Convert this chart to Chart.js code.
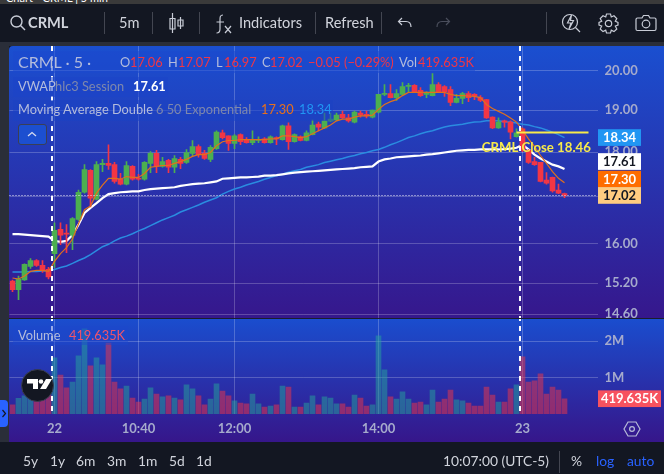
<!DOCTYPE html>
<html><head><meta charset="utf-8">
<script src="https://cdn.jsdelivr.net/npm/chart.js@4"></script>
<style>
html,body{margin:0;padding:0;background:#131722;overflow:hidden}
body{width:664px;height:474px;position:relative;font-family:Lato,sans-serif;color:#d1d4dc}
.a{position:absolute;white-space:nowrap;line-height:1}
.box{position:absolute}
svg{position:absolute;fill:none;stroke:#c8ccd6;stroke-width:1.2}
canvas{position:absolute;left:0;top:0}
.lg{font-size:12.8px;top:56px}
.m{color:#b4bcdc}.d{color:#7f88ac}.r{color:#f23645}
.tb{font-size:14.6px;top:16px}
.bt{font-size:13.8px;top:454px}
</style></head><body>
<div class="box" style="left:0;top:0;width:664px;height:4px;background:#3a3a3a;overflow:hidden"><span class="a" style="left:6px;top:-8px;font-size:11px;color:#fff">Chart - CRML | 5 min</span></div>
<div class="box" style="left:0;top:42px;width:664px;height:4px;background:#2a2e39"></div>
<div class="box" style="left:0;top:42px;width:9px;height:400px;background:#2a2e39"></div>
<div class="box" style="left:9px;top:46px;width:655px;height:272px;background:linear-gradient(#1a4fd0,#36178c);border-top-left-radius:4px"></div>
<div class="box" style="left:9px;top:319px;width:655px;height:123px;background:linear-gradient(#1a4dce,#36168a)"></div>
<canvas id="c" width="664" height="474"></canvas>
<div class="box" style="left:9px;top:318px;width:655px;height:1px;background:#1b1f2c"></div>

<div class="box" style="left:13px;top:51px;width:462px;height:22px;background:rgba(28,72,205,.55)"></div>
<div class="box" style="left:13px;top:77px;width:155px;height:20px;background:rgba(28,68,200,.55)"></div>
<div class="box" style="left:13px;top:100px;width:320px;height:21px;background:rgba(28,65,195,.55)"></div>
<div class="box" style="left:13px;top:326px;width:115px;height:19px;background:rgba(28,72,205,.45)"></div>

<span class="a m" style="left:18px;top:54px;font-size:16px">CRML · 5 ·</span>
<span class="a lg m" style="left:120px">O</span><span class="a lg r" style="left:130px">17.06</span>
<span class="a lg m" style="left:168px">H</span><span class="a lg r" style="left:178px">17.07</span>
<span class="a lg m" style="left:216px">L</span><span class="a lg r" style="left:224px">16.97</span>
<span class="a lg m" style="left:262px">C</span><span class="a lg r" style="left:270px">17.02</span>
<span class="a lg r" style="left:308px">−0.05 (−0.29%)</span>
<span class="a lg m" style="left:399px">Vol</span><span class="a lg r" style="left:418px">419.635K</span>
<span class="a lg m" style="left:18px;top:80px">VWAP</span>
<span class="a lg d" style="left:55px;top:80px">hlc3 Session</span>
<span class="a lg" style="left:133px;top:80px;color:#fff;font-weight:700">17.61</span>
<span class="a lg m" style="left:18px;top:103px">Moving Average Double</span>
<span class="a lg d" style="left:156px;top:103px">6 50 Exponential</span>
<span class="a lg" style="left:261px;top:103px;color:#e8701a">17.30</span>
<span class="a lg" style="left:299px;top:103px;color:#2196f3">18.34</span>
<div class="box" style="left:18px;top:124px;width:27px;height:19px;background:#1c4fd0;border:1px solid #3a3f55;border-radius:3px"></div>
<svg style="left:26px;top:130px" width="12" height="8"><path d="M2 6 L6 2.5 L10 6" stroke="#d6dbef" stroke-width="1.3"/></svg>
<span class="a lg m" style="left:18px;top:329px">Volume</span>
<span class="a lg" style="left:69px;top:329px;color:#f0556a">419.635K</span>

<div class="box" style="left:21px;top:369px;width:31px;height:31px;border-radius:50%;background:#131722;border:1px solid #3a3f50"></div>
<svg style="left:26px;top:378px;fill:#fff;stroke:none" width="28" height="14"><path d="M1 1 H12 V11 H7 V5.5 H1 Z"/><circle cx="15" cy="3.5" r="2.3"/><path d="M20 1 H26 L20 11 H14 Z"/></svg>
<div class="box" style="left:0;top:400px;width:8px;height:27px;background:#2962ff;border-radius:0 4px 4px 0"></div>
<svg style="left:1px;top:409px" width="6" height="9"><path d="M1.5 1 L4.5 4.5 L1.5 8" stroke="#131722" stroke-width="1.2"/></svg>
<svg style="left:623px;top:420px" width="18" height="18"><path d="M5 2 H13 L17 9 L13 16 H5 L1 9 Z" stroke="#b8bcd8"/><circle cx="9" cy="9" r="2.4" stroke="#b8bcd8"/></svg>

<svg style="left:9px;top:14px" width="18" height="18"><circle cx="7.5" cy="7.5" r="5.5" stroke-width="1.4"/><path d="M11.5 11.5 L16 16" stroke-width="1.4"/></svg>
<span class="a tb" style="left:28px;font-weight:700">CRML</span>
<div class="box" style="left:104px;top:12px;width:1px;height:22px;background:#434651"></div>
<span class="a tb" style="left:119px">5m</span>
<div class="box" style="left:152px;top:12px;width:1px;height:22px;background:#434651"></div>
<svg style="left:168px;top:12px" width="18" height="22"><path d="M4.5 1 V21 M2 6.5 H7 V17 H2 Z M12.5 5 V17 M10 8 H15 V14 H10 Z" fill="#131722"/></svg>
<div class="box" style="left:199px;top:12px;width:1px;height:22px;background:#434651"></div>
<svg style="left:215px;top:13px" width="18" height="22"><path d="M8 2 C5 2 5 4 5 7 V16 C5 19 4 20 1.5 20 M1.5 9 H9 M10 13 L16 20 M16 13 L10 20"/></svg>
<span class="a tb" style="left:239px">Indicators</span>
<div class="box" style="left:315px;top:12px;width:1px;height:22px;background:#434651"></div>
<span class="a tb" style="left:325px">Refresh</span>
<div class="box" style="left:381px;top:12px;width:1px;height:22px;background:#434651"></div>
<svg style="left:397px;top:16px" width="16" height="14"><path d="M5 2 L1.5 5.5 L5 9 M1.5 5.5 H9 C12 5.5 14 7.5 14 11"/></svg>
<svg style="left:435px;top:16px" width="16" height="14"><path d="M11 2 L14.5 5.5 L11 9 M14.5 5.5 H7 C4 5.5 2 7.5 2 11" stroke="#4a4e5c"/></svg>
<div class="box" style="left:546px;top:12px;width:1px;height:22px;background:#434651"></div>
<svg style="left:561px;top:12px" width="20" height="22"><circle cx="9" cy="10" r="7.5"/><path d="M14.5 15.5 L19 20 M10.5 3 L6.5 11 H10 L8 17 L12.5 8.5 H9.5 Z" /></svg>
<svg style="left:598px;top:12px" width="21" height="22"><path d="M8.5 2 H12.5 L13.3 5 L16 3.8 L18.8 6.6 L17.3 9.3 L20 10.5 V13 L17.3 14 L18.8 17 L16 19.6 L13.3 18.2 L12.5 21 H8.5 L7.7 18.2 L5 19.6 L2.2 17 L3.7 14 L1 13 V10.5 L3.7 9.3 L2.2 6.6 L5 3.8 L7.7 5 Z"/><circle cx="10.5" cy="11.5" r="3.2"/></svg>
<svg style="left:635px;top:14px" width="22" height="18"><path d="M2.5 4 H7 L8.5 1.5 H13.5 L15 4 H19.5 Q21 4 21 5.5 V15 Q21 16.5 19.5 16.5 H2.5 Q1 16.5 1 15 V5.5 Q1 4 2.5 4 Z"/><circle cx="11" cy="10" r="3.8"/></svg>

<span class="a bt" style="left:23px">5y</span>
<span class="a bt" style="left:50px">1y</span>
<span class="a bt" style="left:76px">6m</span>
<span class="a bt" style="left:107px">3m</span>
<span class="a bt" style="left:138px">1m</span>
<span class="a bt" style="left:169px">5d</span>
<span class="a bt" style="left:196px">1d</span>
<span class="a bt" style="left:443px">10:07:00 (UTC-5)</span>
<div class="box" style="left:559px;top:451px;width:1px;height:22px;background:#434651"></div>
<span class="a bt" style="left:571px">%</span>
<span class="a bt" style="left:596px;color:#2962ff">log</span>
<span class="a bt" style="left:627px;color:#2962ff">auto</span>

<script>
const opens=[15.24,15.07,15.26,15.53,15.65,15.55,15.47,15.79,16.29,16.21,
16.17,16.50,17.09,17.58,16.94,17.71,17.74,17.71,17.38,17.27,
17.67,17.40,17.38,17.74,17.97,17.67,17.81,17.65,17.83,17.76,
17.97,18.13,17.97,17.83,18.08,18.45,18.38,18.20,18.41,18.29,
18.22,18.27,18.31,18.22,18.34,18.29,18.62,18.24,18.36,18.27,
18.41,18.66,18.57,18.74,18.76,18.90,18.81,18.71,18.93,18.90,
18.83,18.95,19.39,19.41,19.31,19.39,19.59,19.62,19.49,19.39,
19.36,19.64,19.59,19.51,19.19,19.29,19.41,19.39,19.31,19.26,
18.83,18.57,18.74,18.71,18.36,18.55,18.04,17.78,17.76,17.36,
17.42,17.14,17.06];
const closes=[15.07,15.28,15.57,15.65,15.55,15.45,15.32,16.27,16.17,16.19,
16.52,17.09,17.60,16.96,17.71,17.74,17.69,17.33,17.27,17.69,
17.38,17.38,17.76,17.97,17.67,17.78,17.65,17.85,17.74,17.99,
18.13,17.94,17.85,18.11,18.47,18.34,18.20,18.38,18.24,18.22,
18.29,18.29,18.22,18.36,18.31,18.62,18.24,18.41,18.27,18.45,
18.64,18.59,18.74,18.78,18.88,18.81,18.74,18.95,18.88,18.86,
19.00,19.39,19.41,19.31,19.41,19.59,19.62,19.46,19.36,19.44,
19.64,19.46,19.46,19.19,19.29,19.41,19.31,19.36,19.24,18.81,
18.57,18.71,18.71,18.47,18.45,18.04,17.76,17.71,17.33,17.29,
17.12,17.07,17.02];
const highs=[15.26,15.34,15.58,15.69,15.67,15.65,15.51,16.43,16.43,16.39,
16.54,17.14,17.71,17.60,17.78,17.83,18.17,17.76,17.51,17.78,
17.69,17.49,17.78,18.01,18.04,17.88,17.83,17.92,17.88,18.06,
18.27,18.17,18.04,18.15,18.50,18.52,18.38,18.41,18.43,18.34,
18.50,18.36,18.34,18.38,18.36,18.64,18.69,18.43,18.38,18.50,
18.76,18.71,18.93,18.93,18.93,18.98,18.90,18.98,18.98,18.98,
19.00,19.39,19.64,19.64,19.51,19.69,19.67,19.64,19.56,19.46,
19.92,19.69,19.61,19.59,19.39,19.44,19.46,19.41,19.36,19.27,
18.84,18.81,18.76,18.74,18.55,18.57,18.06,17.88,17.76,17.53,
17.43,17.27,17.07];
const lows=[15.03,14.88,15.25,15.49,15.53,15.41,15.28,15.51,15.97,15.81,
15.87,16.48,17.07,16.77,16.92,17.55,17.60,17.29,17.25,17.25,
17.36,17.36,17.36,17.53,17.53,17.65,17.53,17.53,17.62,17.74,
17.90,17.88,17.83,17.78,18.06,18.31,18.04,18.08,18.17,18.21,
18.17,18.22,18.21,18.21,18.17,18.28,18.06,18.23,18.26,18.26,
18.40,18.50,18.55,18.73,18.74,18.80,18.71,18.69,18.83,18.81,
18.81,18.93,19.36,19.30,19.24,19.36,19.44,19.44,19.34,19.31,
19.35,19.45,19.34,19.11,19.18,19.16,19.21,19.26,19.21,18.80,
18.55,18.56,18.59,18.31,18.35,18.01,17.74,17.69,17.32,17.27,
17.09,17.06,16.97];
const volumes=[.25,.43,.50,.45,.38,.38,.52,1.54,1.07,.72,
.88,1.60,2.34,1.32,1.54,1.35,1.95,.88,.69,.77,
.44,.33,.41,.72,.55,.47,.50,.44,.39,.80,
.69,.50,.25,.41,.83,.63,.50,.36,.30,.28,
.55,.28,.19,.22,.25,.77,.74,.19,.19,.30,
.50,.25,.47,.44,.28,.28,.19,.52,.44,.22,
.25,2.15,1.21,.47,.41,.61,.41,.30,.33,.25,
.66,.33,.41,.66,.39,.36,.30,.22,.22,.74,
.52,.33,.33,.69,.80,1.57,.88,.91,1.10,.55,
.74,.66,.42];
const vwap=[16.19,16.19,16.18,16.17,16.16,16.15,16.14,16.05,16.03,16.05,
16.17,16.39,16.64,16.75,16.85,16.96,17.05,17.07,17.09,17.10,
17.11,17.11,17.14,17.16,17.17,17.18,17.19,17.20,17.23,17.25,
17.27,17.28,17.29,17.31,17.33,17.39,17.40,17.41,17.42,17.42,
17.43,17.44,17.46,17.46,17.47,17.49,17.51,17.53,17.54,17.55,
17.56,17.57,17.58,17.59,17.60,17.61,17.62,17.63,17.65,17.66,
17.67,17.78,17.83,17.85,17.88,17.89,17.90,17.91,17.92,17.94,
17.95,17.97,17.99,18.01,18.03,18.04,18.05,18.05,18.06,18.06,
18.06,18.06,18.07,18.08,18.10,18.17,18.06,17.94,17.85,17.78,
17.71,17.67,17.61];
const ema6=[15.30,15.28,15.34,15.43,15.45,15.45,15.43,15.63,15.79,15.91,
16.09,16.41,16.71,16.79,17.07,17.25,17.40,17.40,17.38,17.44,
17.42,17.42,17.51,17.65,17.67,17.69,17.69,17.74,17.78,17.83,
17.90,17.94,17.94,17.99,18.15,18.24,18.27,18.27,18.29,18.29,
18.29,18.29,18.29,18.31,18.31,18.38,18.38,18.36,18.34,18.36,
18.43,18.50,18.57,18.64,18.74,18.78,18.78,18.83,18.86,18.86,
18.88,19.02,19.14,19.21,19.26,19.36,19.44,19.44,19.44,19.44,
19.44,19.44,19.44,19.39,19.36,19.36,19.35,19.34,19.31,19.14,
19.04,18.97,18.90,18.81,18.71,18.52,18.31,18.13,17.92,17.74,
17.55,17.40,17.30];
const ema50=[15.42,15.42,15.42,15.43,15.43,15.44,15.45,15.47,15.51,15.54,
15.59,15.65,15.70,15.77,15.85,15.93,15.98,16.05,16.11,16.15,
16.20,16.26,16.31,16.37,16.43,16.49,16.54,16.59,16.66,16.71,
16.76,16.81,16.87,16.92,16.97,17.05,17.11,17.16,17.20,17.25,
17.29,17.33,17.38,17.42,17.46,17.49,17.54,17.57,17.60,17.65,
17.68,17.71,17.76,17.79,17.82,17.85,17.89,17.92,17.96,17.99,
18.03,18.06,18.11,18.17,18.22,18.28,18.34,18.38,18.43,18.47,
18.50,18.55,18.59,18.62,18.64,18.66,18.69,18.71,18.72,18.74,
18.74,18.74,18.72,18.71,18.69,18.66,18.64,18.60,18.57,18.52,
18.47,18.41,18.34];
const slotCount=98;
const timeTickIndex=[7,21,37,61,85];
const timeTickText=["22","10:40","12:00","14:00","23"];
const priceTicks=[20,19,18,17,16,15.2,14.6];
const volumeTicks=[1,2];
const sessionBreaks=[6.5,84.5];
const lastClose=17.02;
const prevCloseValue=18.46, prevCloseFrom=84, prevCloseTo=96;
const prevCloseLine=Array.from({length:slotCount},(_,i)=>(i===prevCloseFrom||i===prevCloseTo)?prevCloseValue:null);
const badges=[
 {v:18.34,t:"18.34",bg:"#2196f3",fg:"#fff",shift:0},
 {v:17.61,t:"17.61",bg:"#ffffff",fg:"#131722",shift:-7.5},
 {v:17.30,t:"17.30",bg:"#ff6d00",fg:"#fff",shift:-3.7},
 {v:17.02,t:"17.02",bg:"#ffcc80",fg:"#131722",shift:0}];
const UP="#4caf50",DOWN="#f23645",UPV="rgba(38,166,154,.5)",DOWNV="rgba(242,54,69,.5)";
const FONT='Lato,sans-serif';
const slots=Array.from({length:slotCount},(_,i)=>String(i));
const isUp=closes.map((c,i)=>c>=opens[i]);
const bodies=opens.map((o,i)=>[Math.min(o,closes[i]),Math.max(o,closes[i])]);
const wicks=lows.map((l,i)=>[l,highs[i]]);

const marks={id:"marks",
 afterDatasetsDraw(ch){
  const {ctx,chartArea:a,scales:{x,y}}=ch;
  ctx.save();
  ctx.strokeStyle="#fff";ctx.lineWidth=2;ctx.setLineDash([5,5]);
  sessionBreaks.forEach(b=>{const px=Math.round(x.getPixelForValue(b));ctx.beginPath();ctx.moveTo(px,a.top);ctx.lineTo(px,a.bottom);ctx.stroke();});
  const py=Math.round(y.getPixelForValue(lastClose))+.5;
  ctx.lineWidth=1;ctx.setLineDash([1,2]);ctx.strokeStyle="#e8e8f4";
  ctx.beginPath();ctx.moveTo(a.left,py);ctx.lineTo(a.right,py);ctx.stroke();
  ctx.setLineDash([]);
  ctx.fillStyle="#f7ea4a";ctx.font="700 13.2px "+FONT;ctx.textAlign="center";ctx.textBaseline="middle";
  ctx.fillText("CRML Close 18.46",x.getPixelForValue(87.3),y.getPixelForValue(18.10));
  ctx.restore();
 },
 afterDraw(ch){
  const {ctx,chartArea:a,scales:{y,v}}=ch;
  ctx.save();ctx.textAlign="center";ctx.textBaseline="middle";ctx.font="700 13px "+FONT;
  const L=Math.round(a.right),W=43,H=16.7;
  badges.forEach(b=>{const c=y.getPixelForValue(b.v)+b.shift;ctx.fillStyle=b.bg;ctx.fillRect(L,c-H/2,W,H);ctx.fillStyle=b.fg;ctx.fillText(b.t,L+W/2,c+.5);});
  const c=v.getPixelForValue(volumes[volumes.length-1]);
  ctx.fillStyle="#f7525f";ctx.fillRect(L,c-H/2,63,H);ctx.fillStyle="#fff";ctx.fillText("419.635K",L+31.5,c+.5);
  ctx.restore();
 }};

const gridCol="rgba(255,255,255,.22)",tickCol="#a6abcc";
new Chart(document.getElementById("c"),{
 data:{labels:slots,datasets:[
  {type:"bar",label:"Volume",data:volumes,yAxisID:"v",backgroundColor:isUp.map(u=>u?UPV:DOWNV),barThickness:5,grouped:false,order:10},
  {type:"line",label:"MA 50",data:ema50,yAxisID:"y",borderColor:"#2a8ce0",borderWidth:1.5,pointRadius:0,tension:0,order:9},
  {type:"line",label:"VWAP",data:vwap,yAxisID:"y",borderColor:"#ffffff",borderWidth:2.2,pointRadius:0,tension:0,order:8},
  {type:"bar",label:"Wick",data:wicks,yAxisID:"y",backgroundColor:isUp.map(u=>u?UP:DOWN),barThickness:1,grouped:false,order:7},
  {type:"bar",label:"Body",data:bodies,yAxisID:"y",backgroundColor:isUp.map(u=>u?UP:DOWN),barThickness:5,minBarLength:1,grouped:false,order:6},
  {type:"line",label:"MA 6",data:ema6,yAxisID:"y",borderColor:"#e0701c",borderWidth:1.2,pointRadius:0,tension:0,order:5},
  {type:"line",label:"Close",data:prevCloseLine,yAxisID:"y",borderColor:"#f7ea4a",borderWidth:2,pointRadius:0,spanGaps:true,order:4}
 ]},
 options:{responsive:false,animation:false,events:[],
  layout:{padding:{left:9.5,top:46,right:0,bottom:32}},
  plugins:{legend:{display:false},tooltip:{enabled:false}},
  scales:{
   x:{type:"category",offset:true,
      grid:{color:gridCol,offset:false,drawTicks:false},border:{display:false},
      afterBuildTicks(s){s.ticks=timeTickIndex.map(value=>({value}));},
      afterFit(s){s.height=28;},
      ticks:{autoSkip:false,maxRotation:0,padding:7,color:tickCol,font:{family:FONT,size:13,weight:"700"},
        callback(val){return timeTickText[timeTickIndex.indexOf(val)];}}},
   y:{type:"logarithmic",position:"right",stack:"panes",stackWeight:272,weight:0,min:14.53,max:20.64,
      grid:{color:gridCol,drawTicks:false},border:{display:false},
      afterBuildTicks(s){s.ticks=priceTicks.map(value=>({value}));},
      afterFit(s){s.width=66.5;},
      ticks:{autoSkip:false,padding:7,align:"center",crossAlign:"near",color:tickCol,font:{family:FONT,size:13,weight:"700"},
        callback(val){return Number(val).toFixed(2);}}},
   v:{type:"linear",position:"right",stack:"panes",stackWeight:96,weight:1,min:0,max:2.637,
      grid:{color:gridCol,drawTicks:false},border:{display:false},
      afterBuildTicks(s){s.ticks=volumeTicks.map(value=>({value}));},
      afterFit(s){s.width=66.5;},
      ticks:{autoSkip:false,padding:7,crossAlign:"near",color:tickCol,font:{family:FONT,size:13,weight:"700"},
        callback(val){return val+"M";}}}
  }},
 plugins:[marks]
});
</script>
</body></html>
